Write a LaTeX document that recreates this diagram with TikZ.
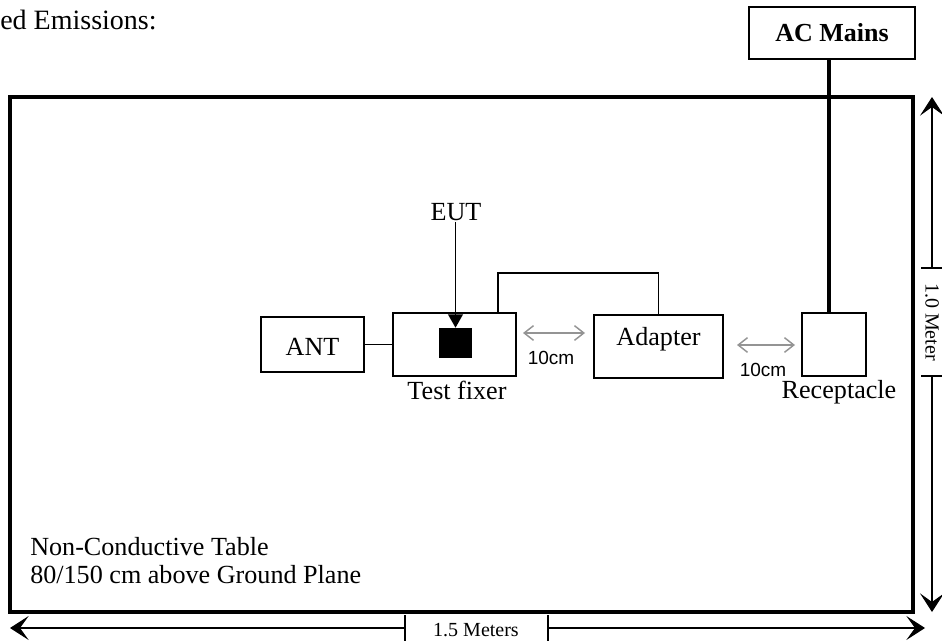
\documentclass[tikz,border=0pt]{standalone}
\usepackage{fontspec}
\setmainfont{Liberation Serif}
\newfontfamily\arialfont{Liberation Sans}
\usetikzlibrary{arrows.meta,calc}
\begin{document}
\begin{tikzpicture}[x=0.75pt,y=-0.75pt,
  box/.style={draw,line width=1.5pt,inner sep=0pt},
  lbl/.style={font=\fontsize{19.6}{23}\selectfont,inner sep=0pt},
  dimlbl/.style={font=\fontsize{15}{18}\selectfont,inner sep=0pt},
  cmlbl/.style={font=\arialfont\fontsize{14.25}{17}\selectfont,inner sep=0pt},
  dimline/.style={line width=0.8pt},
  dimtip/.style={-{Stealth[length=14pt,width=18pt,inset=6.5pt]}},
  grayarrow/.style={draw=black!42,line width=1.1pt,{Straight Barb[length=7pt,width=11pt]}-{Straight Barb[length=7pt,width=11pt]}},
  wire/.style={line width=1.4pt}
]
\useasboundingbox (0,0) rectangle (942,642);
% title
\node[font=\fontsize{21}{25}\selectfont,inner sep=0pt,anchor=base west] (title) at (0,30) {ed Emissions:};
% table
\node[draw,line width=2.5pt,inner sep=0pt,minimum width=677.25pt,minimum height=386.25pt] (table) at (461.5,354.5) {};
% AC mains
\node[box,minimum width=124.5pt,minimum height=39pt,font=\bfseries\fontsize{19.5}{23}\selectfont] (ac) at (832,33) {AC Mains};
% boxes
\node[box,minimum width=77.25pt,minimum height=41.25pt] (ant) at (312.5,344.5) {};
\node[lbl] (antl) at (312.5,347) {ANT};
\node[box,minimum width=92.25pt,minimum height=47.25pt] (tf) at (454.5,344.5) {};
\node[fill=black,inner sep=0pt,minimum width=24.75pt,minimum height=22.5pt] (sq) at (455.5,343) {};
\node[box,minimum width=96.75pt,minimum height=47.25pt] (ad) at (658.5,346.5) {};
\node[lbl] (adl) at (658.5,339) {Adapter};
\node[box,minimum width=48pt,minimum height=47.25pt] (rec) at (834,344.5) {};
% labels
\node[lbl,anchor=base] (eut) at (456,220) {EUT};
\node[lbl,anchor=base] (tfl) at (457,399) {Test fixer};
\node[lbl,anchor=base] (recl) at (839,398) {Receptacle};
\node[lbl,anchor=base west] (nc1) at (30,555) {Non-Conductive Table};
\node[lbl,anchor=base west] (nc2) at (30,583) {80/150 cm above Ground Plane};
% connections
\draw[wire] (ant.east) -- (tf.west);
\draw[line width=1.4pt,-{Triangle[length=10pt,width=11pt]}] (eut.base -| sq.north) ++(0,2) -- (sq.north);
\coordinate (tfx) at (498,0);
\coordinate (topy) at (0,273);
\draw[wire] (tfx |- tf.north) -- (tfx |- topy) -- (ad.north |- topy) -- (ad.north);
\coordinate (acx) at (829,0);
\draw[line width=3pt] (acx |- ac.south) -- (acx |- rec.north);
% gray distance arrows
\coordinate (g1a) at (523,333);
\coordinate (g1b) at (585,333);
\draw[grayarrow] (g1a) -- (g1b);
\node[cmlbl] (cm1) at (551,358) {10cm};
\coordinate (g2a) at (737,345);
\coordinate (g2b) at (795,345);
\draw[grayarrow] (g2a) -- (g2b);
\node[cmlbl] (cm2) at (763,370) {10cm};
% bottom dimension
\node[dimlbl] (d15) at (476,630) {1.5 Meters};
\coordinate (bl) at (10,628);
\coordinate (br) at (925,628);
\coordinate (bt1) at (405,628);
\coordinate (bt2) at (548,628);
\draw[dimline,dimtip] (bt1) -- (bl);
\draw[dimline,dimtip] (bt2) -- (br);
\draw[line width=1.2pt] ($(bt1)+(0,-13)$) -- ($(bt1)+(0,13)$);
\draw[line width=1.2pt] ($(bt2)+(0,-13)$) -- ($(bt2)+(0,13)$);
% right dimension
\node[dimlbl,rotate=-90] (d10) at (932,322) {1.0 Meter};
\coordinate (rt) at (932,97);
\coordinate (rb) at (932,612);
\coordinate (rt1) at (932,268);
\coordinate (rt2) at (932,376);
\draw[dimline,dimtip] (rt1) -- (rt);
\draw[dimline,dimtip] (rt2) -- (rb);
\draw[line width=1.2pt] ($(rt1)+(-11,0)$) -- ($(rt1)+(11,0)$);
\draw[line width=1.2pt] ($(rt2)+(-11,0)$) -- ($(rt2)+(11,0)$);
\end{tikzpicture}
\end{document}
